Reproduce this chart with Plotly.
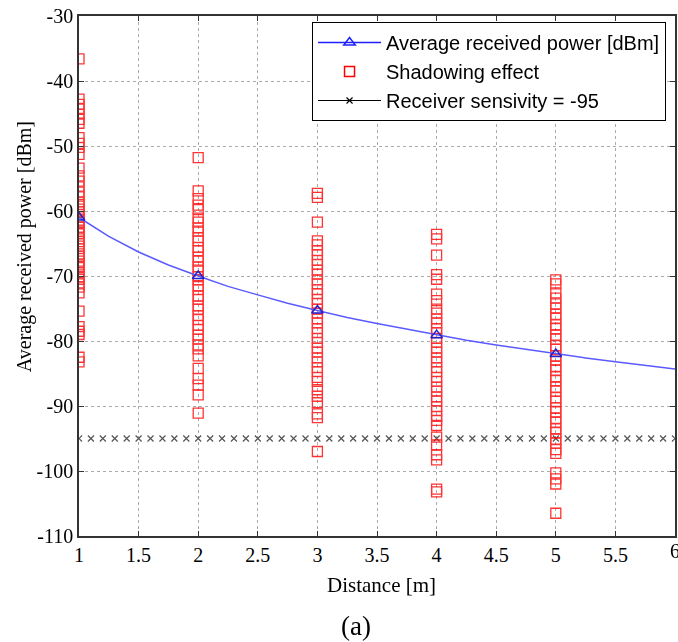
import plotly.graph_objects as go

# ---- data ----
dist_curve = [1, 1.25, 1.5, 1.75, 2, 2.25, 2.5, 2.75, 3, 3.25, 3.5, 3.75, 4,
              4.25, 4.5, 4.75, 5, 5.25, 5.5, 5.75, 6]
avg_power_curve = [-61.0, -63.9, -66.3, -68.3, -70.0, -71.6, -72.9, -74.2, -75.3,
                   -76.4, -77.3, -78.2, -79.1, -79.9, -80.6, -81.3, -82.0, -82.6,
                   -83.2, -83.8, -84.3]
dist_marks = [1, 2, 3, 4, 5]
avg_power_marks = [-61.0, -70.0, -75.3, -79.1, -82.0]

shadow_d1 = [-36.6, -42.8, -43.6, -44.2, -45.1, -45.9, -46.5, -48.7, -49.6, -50.2, -51.3,
             -53.4, -54.6, -55.4, -56.3, -57.1, -57.7, -58.6, -59.0, -59.7, -60.1, -60.9,
             -61.4, -61.8, -62.5, -63.1, -63.5, -64.3, -64.7, -65.4, -65.8, -66.6, -67.0,
             -67.7, -68.3, -68.7, -69.5, -70.1, -70.5, -71.2, -71.7, -72.6, -75.4, -77.8,
             -78.5, -79.0, -82.5, -83.2]
shadow_d2 = [-51.8, -56.9, -58.1, -59.1, -59.8, -61.1, -61.7, -62.6, -63.1, -64.1, -64.6,
             -65.6, -66.1, -67.1, -67.7, -68.6, -69.1, -70.1, -70.6, -71.5, -72.1, -73.1,
             -73.6, -74.6, -75.1, -76.1, -76.7, -77.6, -78.2, -79.1, -79.7, -80.6, -81.2,
             -82.3, -84.2, -85.8, -86.8, -88.3, -91.1]
shadow_d3 = [-57.3, -57.9, -61.7, -64.6, -65.2, -66.1, -66.7, -67.6, -68.2, -69.1, -69.7,
             -70.6, -71.2, -72.1, -72.7, -73.6, -74.2, -75.1, -75.7, -76.6, -77.2, -78.1,
             -78.7, -79.6, -80.2, -81.1, -81.7, -82.6, -83.2, -84.1, -84.7, -85.6, -86.2,
             -87.5, -88.5, -89.5, -91.2, -91.8, -97.0]
shadow_d4 = [-63.6, -64.3, -66.8, -69.8, -70.5, -72.8, -73.8, -75.1, -75.7, -76.6, -77.2,
             -78.1, -78.7, -79.6, -80.2, -81.1, -81.7, -82.6, -83.2, -84.1, -84.7, -85.6,
             -86.2, -87.1, -87.7, -88.6, -89.2, -90.1, -90.7, -91.6, -92.2, -93.0, -94.8,
             -96.0, -97.5, -98.3, -102.8, -103.2]
shadow_d5 = [-70.6, -71.2, -72.6, -73.4, -74.3, -74.9, -75.9, -76.5, -77.5, -78.1, -79.1,
             -79.7, -80.7, -81.3, -82.3, -82.9, -83.9, -84.5, -85.5, -86.1, -87.1, -87.7,
             -88.7, -89.3, -90.3, -90.9, -91.9, -92.5, -93.5, -94.1, -95.1, -95.7, -96.7,
             -97.3, -100.3, -101.2, -102.0, -106.5]
shadow_by_dist = {1: shadow_d1, 2: shadow_d2, 3: shadow_d3, 4: shadow_d4, 5: shadow_d5}

sens_dist = [1.0, 1.1, 1.2, 1.3, 1.4, 1.5, 1.6, 1.7, 1.8, 1.9, 2.0, 2.1, 2.2, 2.3, 2.4,
             2.5, 2.6, 2.7, 2.8, 2.9, 3.0, 3.1, 3.2, 3.3, 3.4, 3.5, 3.6, 3.7, 3.8, 3.9,
             4.0, 4.1, 4.2, 4.3, 4.4, 4.5, 4.6, 4.7, 4.8, 4.9, 5.0, 5.1, 5.2, 5.3, 5.4,
             5.5, 5.6, 5.7, 5.8, 5.9, 6.0]
sens_level = -95

x_ticks = [1, 1.5, 2, 2.5, 3, 3.5, 4, 4.5, 5, 5.5, 6]
x_tick_text = ["1", "1.5", "2", "2.5", "3", "3.5", "4", "4.5", "5", "5.5", ""]
y_ticks = [-30, -40, -50, -60, -70, -80, -90, -100, -110]
y_tick_text = ["-30", "-40", "-50", "-60", "-70", "-80", "-90", "-100", "-110"]

# ---- figure ----
fig = go.Figure()

shadow_x, shadow_y = [], []
for d, vals in shadow_by_dist.items():
    shadow_x += [d] * len(vals)
    shadow_y += vals

fig.add_trace(go.Scatter(
    x=sens_dist, y=[sens_level] * len(sens_dist), mode="markers",
    marker=dict(symbol="x-thin", size=6, line=dict(color="#555555", width=1.2)),
    showlegend=False, hoverinfo="skip"))

fig.add_trace(go.Scatter(
    x=shadow_x, y=shadow_y, mode="markers",
    marker=dict(symbol="square-open", size=10, color="#ff0000", line=dict(width=1.3)),
    opacity=0.8, showlegend=False))

fig.add_trace(go.Scatter(
    x=dist_curve, y=avg_power_curve, mode="lines",
    line=dict(color="#5a5aff", width=1.5), showlegend=False))
fig.add_trace(go.Scatter(
    x=dist_marks, y=avg_power_marks, mode="markers",
    marker=dict(symbol="triangle-up-open", size=10, color="#2222cc", line=dict(width=1.5)),
    showlegend=False))

# legend entries
fig.add_trace(go.Scatter(
    x=[None], y=[None], mode="lines+markers", name="Average received power [dBm]",
    line=dict(color="#2020ff", width=1.5),
    marker=dict(symbol="triangle-up-open", size=10, color="#2020ff", line=dict(width=1.5))))
fig.add_trace(go.Scatter(
    x=[None], y=[None], mode="markers", name="Shadowing effect",
    marker=dict(symbol="square-open", size=10, color="#ff0000", line=dict(width=1.5))))
fig.add_trace(go.Scatter(
    x=[None], y=[None], mode="lines+markers", name="Receiver sensivity = -95",
    line=dict(color="black", width=1.2),
    marker=dict(symbol="x-thin", size=6, line=dict(color="black", width=1.2))))

serif = "Liberation Serif, Times New Roman, serif"
L, R, T, B = 79, 1, 16, 106
W, H = 678, 642
plot_w = W - L - R
plot_h = H - T - B


def px_x(px):
    return (px - L) / plot_w


def px_y(py):
    return (H - B - py) / plot_h


fig.update_layout(
    width=W, height=H,
    margin=dict(l=L, r=R, t=T, b=B),
    plot_bgcolor="white", paper_bgcolor="white",
    font=dict(family=serif, color="black"),
    showlegend=True,
    legend=dict(
        x=px_x(668), y=px_y(22), xanchor="right", yanchor="top",
        bgcolor="white", bordercolor="black", borderwidth=1,
        font=dict(family="Liberation Sans, Arial, sans-serif", size=20, color="black"),
        itemwidth=63, tracegroupgap=0,
    ),
    xaxis=dict(
        range=[1, 6], tickvals=x_ticks, ticktext=x_tick_text,
        showgrid=True, gridcolor="#aaaaaa", griddash="dot", gridwidth=1,
        showline=True, linecolor="#333333", linewidth=1.5, mirror="ticks",
        ticks="inside", ticklen=5, tickcolor="#333333",
        tickfont=dict(family=serif, size=20),
        zeroline=False,
    ),
    yaxis=dict(
        range=[-110, -30], tickvals=y_ticks, ticktext=y_tick_text,
        showgrid=True, gridcolor="#aaaaaa", griddash="dot", gridwidth=1,
        showline=True, linecolor="#333333", linewidth=1.5, mirror="ticks",
        ticks="inside", ticklen=5, tickcolor="#333333",
        tickfont=dict(family=serif, size=20),
        zeroline=False,
    ),
    annotations=[
        dict(text="Distance [m]", xref="paper", yref="paper",
             x=px_x(383), y=px_y(585), xanchor="center", yanchor="middle",
             showarrow=False, font=dict(family=serif, size=21)),
        dict(text="Average received power [dBm]", xref="paper", yref="paper",
             x=px_x(24), y=px_y(247), xanchor="center", yanchor="middle",
             textangle=-90, showarrow=False, font=dict(family=serif, size=20)),
        dict(text="6", xref="x", yref="paper",
             x=6, y=px_y(551), xanchor="center", yanchor="middle",
             showarrow=False, font=dict(family=serif, size=20)),
        dict(text="(a)", xref="paper", yref="paper",
             x=px_x(357), y=px_y(626), xanchor="center", yanchor="middle",
             showarrow=False, font=dict(family=serif, size=27)),
    ],
)

fig.write_html("out.html")
